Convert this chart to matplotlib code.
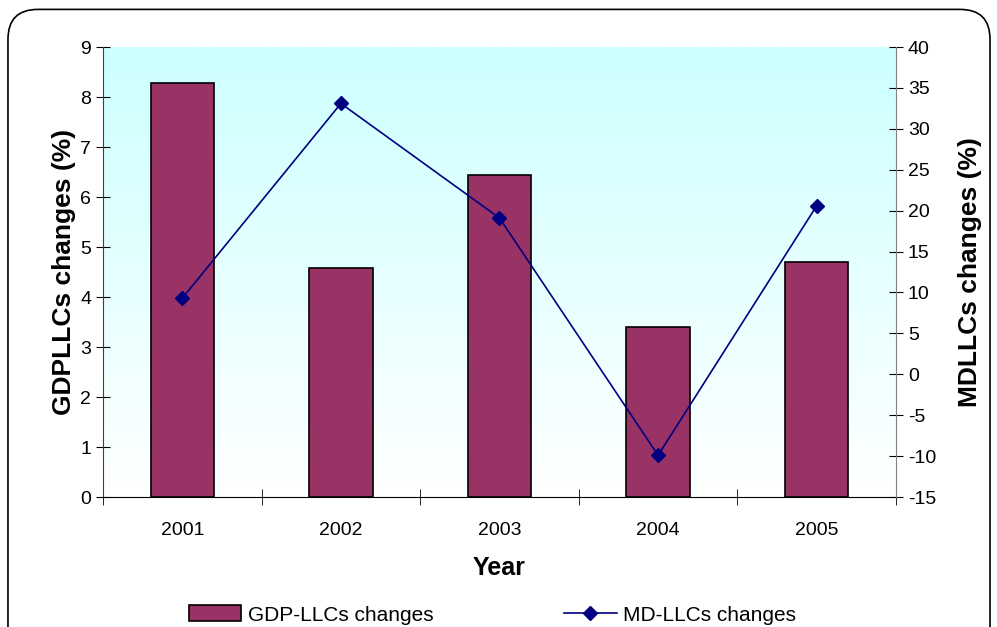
import numpy as np
import matplotlib.pyplot as plt
from matplotlib.patches import FancyBboxPatch
from matplotlib.colors import LinearSegmentedColormap

plt.rcParams['font.family'] = ['Liberation Sans', 'DejaVu Sans']
plt.rcParams['axes.unicode_minus'] = False

years = ['2001', '2002', '2003', '2004', '2005']
gdp_llcs = [8.28, 4.58, 6.44, 3.40, 4.70]
md_llcs = [9.3, 33.1, 19.1, -9.9, 20.6]

fig = plt.figure(figsize=(9.97, 6.27), dpi=100)
ax = fig.add_axes([0.1033, 0.2073, 0.7954, 0.7177])

# rounded frame around the chart
frame = FancyBboxPatch((0.008, -0.05), 0.985, 1.035,
                       boxstyle='round,pad=0,rounding_size=0.03',
                       transform=fig.transFigure, fill=False,
                       edgecolor='black', linewidth=1.2, zorder=-20,
                       mutation_aspect=997/627)
fig.patches.append(frame)

x = np.arange(len(years))
ax.set_xlim(-0.5, len(years) - 0.5)
ax.set_ylim(0, 9)

# background gradient, cyan on top fading to white
cmap = LinearSegmentedColormap.from_list('bg', ['#ffffff', '#ccffff'])
grad = np.linspace(0, 1, 256).reshape(-1, 1)
ax.imshow(grad, extent=(-0.5, len(years) - 0.5, 0, 9), origin='lower',
          cmap=cmap, aspect='auto', zorder=-10)

ax.bar(x, gdp_llcs, width=0.4, color='#993366', edgecolor='black',
       linewidth=1.2, label='GDP-LLCs changes', zorder=2)

ax.set_yticks(range(0, 10))
ax.set_xticks(x)
ax.set_xticklabels(years)
ax.set_xticks(np.arange(-0.5, len(years)), minor=True)
ax.tick_params(axis='x', which='major', length=0, labelsize=14, pad=18)
ax.tick_params(axis='x', which='minor', direction='inout', length=12)
ax.tick_params(axis='y', direction='inout', length=10, labelsize=14)
ax.spines['top'].set_visible(False)
ax.spines['right'].set_visible(False)
ax.spines['left'].set_color('#404040')
ax.set_ylabel('GDPLLCs changes (%)', fontsize=19, fontweight='bold', labelpad=3)
ax.set_xlabel('Year', fontsize=18, fontweight='bold', labelpad=12)

ax2 = ax.twinx()
ax2.plot(x, md_llcs, color='#000080', linewidth=1.2, marker='D',
         markersize=7, label='MD-LLCs changes', zorder=3)
ax2.set_ylim(-15, 40)
ax2.set_yticks(range(-15, 41, 5))
ax2.tick_params(axis='y', direction='inout', length=10, labelsize=14)
ax2.spines['top'].set_visible(False)
ax2.spines['left'].set_visible(False)
ax2.spines['bottom'].set_visible(False)
ax2.spines['right'].set_color('#808080')
ax2.set_ylabel('MDLLCs changes (%)', fontsize=19, fontweight='bold', labelpad=16)

h1, l1 = ax.get_legend_handles_labels()
h2, l2 = ax2.get_legend_handles_labels()
fig.legend(h1 + h2, l1 + l2, loc='lower center', bbox_to_anchor=(0.494, -0.026),
           ncol=2, frameon=False, fontsize=15, columnspacing=6.3,
           handlelength=2.5, handleheight=0.8, handletextpad=0.3)

fig.savefig('out.png', dpi=100)
